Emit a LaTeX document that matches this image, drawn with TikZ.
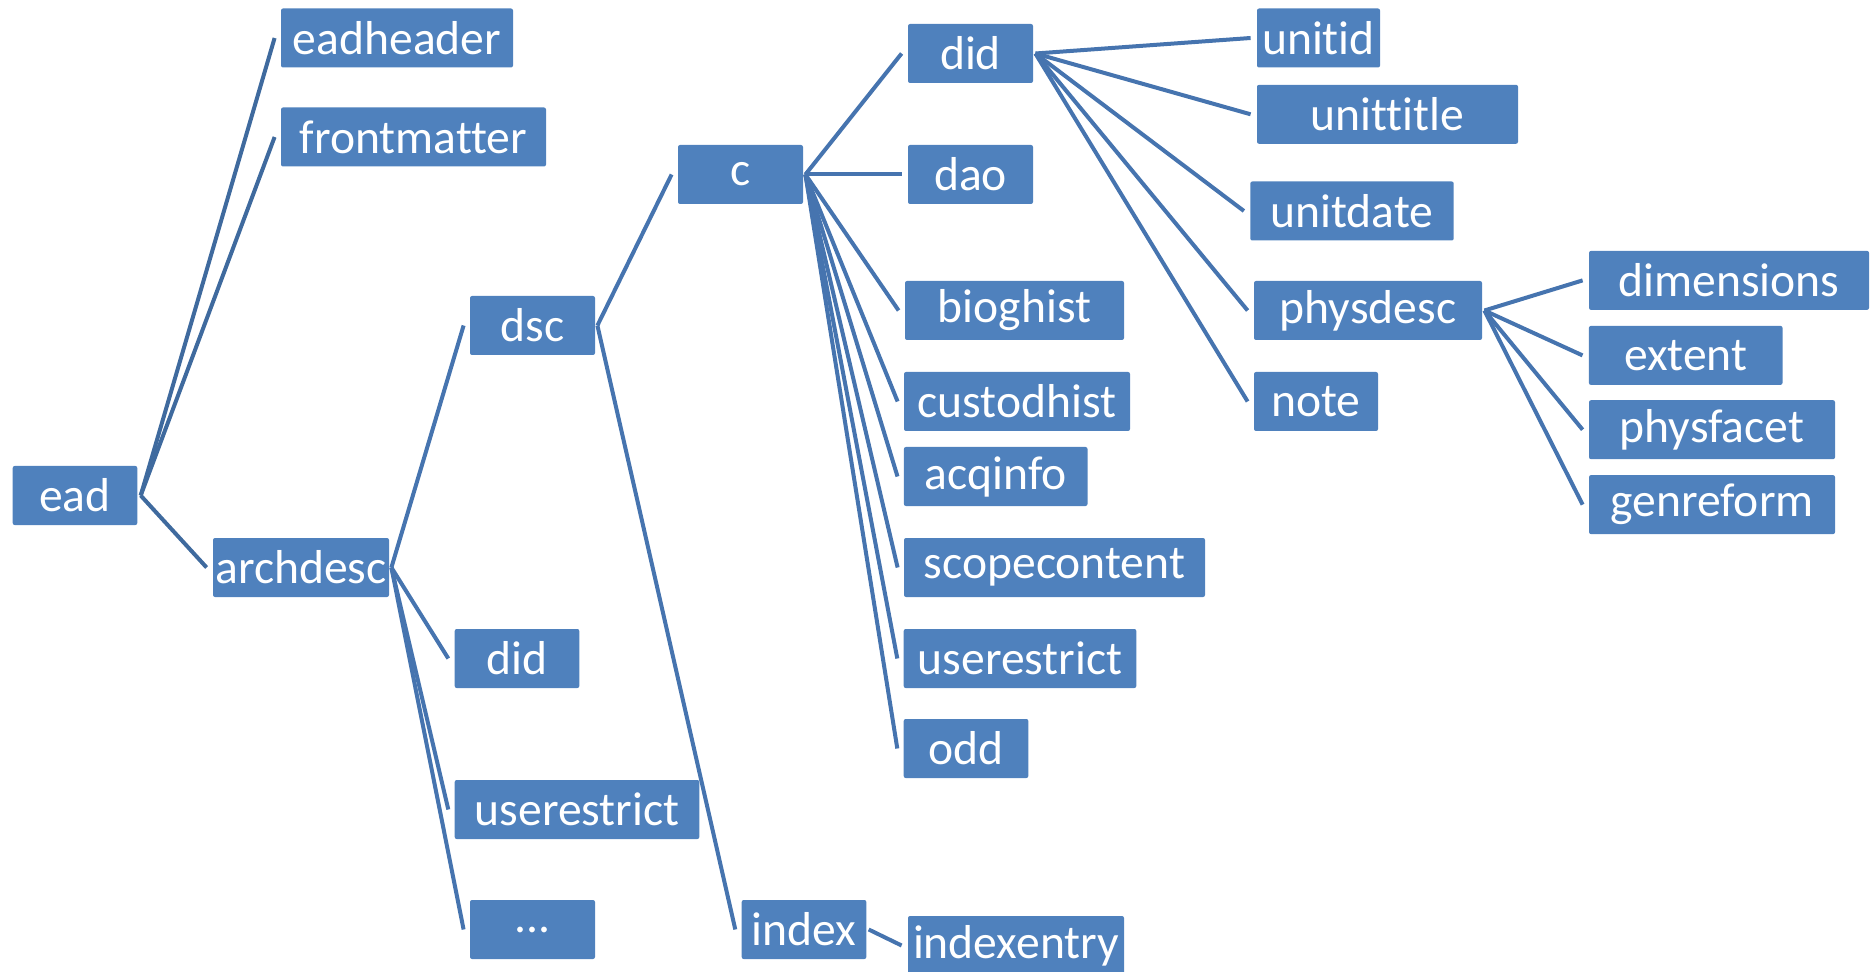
\documentclass[tikz,border=0pt]{standalone}
\usepackage{fontspec}
\setmainfont{Carlito}[Ligatures=NoCommon]
\definecolor{boxblue}{HTML}{4F81BD}
\definecolor{linkblue}{HTML}{4674AF}
\definecolor{rootlink}{HTML}{3F6A9E}
\tikzset{
  elem/.style={fill=boxblue, draw=none, rounded corners=1pt, inner sep=0pt,
    minimum height=29.5pt, text=white, font=\fontsize{23.8}{26}\selectfont},
  link/.style={draw=linkblue, line width=2pt},
  rootedge/.style={draw=rootlink, line width=2pt}
}
\begin{document}
\begin{tikzpicture}[x=0.5pt, y=-0.5pt]
\useasboundingbox (0,0) rectangle (1872,972);

% root and its children
\node[elem, minimum width=62.3pt] (ead) at (75,495.5) {ead};
\node[elem, minimum width=116pt] (eadheader) at (397,38) {eadheader};
\node[elem, minimum width=132.5pt] (frontmatter) at (413.5,137) {frontmatter};
\node[elem, minimum width=88pt] (archdesc) at (301,567.5) {archdesc};

% archdesc children
\node[elem, minimum width=62.5pt] (dsc) at (532.5,325.5) {dsc};
\node[elem, minimum width=62.3pt] (adid) at (517,658.5) {did};
\node[elem, minimum width=122.3pt] (auser) at (577,809.5) {userestrict};
\node[elem, minimum width=62.5pt] (more) at (532.5,929.5) {...};

% dsc children
\node[elem, minimum width=62.5pt] (c) at (740.5,174.5) {c};
\node[elem, minimum width=62.3pt] (index) at (804,929.5) {index};
\node[elem, minimum width=108pt] (indexentry) at (1016,945.5) {indexentry};

% c children
\node[elem, minimum width=62.5pt] (cdid) at (970.5,53.5) {did};
\node[elem, minimum width=62.5pt] (dao) at (970.5,174.5) {dao};
\node[elem, minimum width=109.5pt] (bioghist) at (1014.5,310.5) {bioghist};
\node[elem, minimum width=113pt] (custodhist) at (1017,401.5) {custodhist};
\node[elem, minimum width=91.8pt] (acqinfo) at (995.7,476.5) {acqinfo};
\node[elem, minimum width=150.5pt] (scopecontent) at (1054.5,567.5) {scopecontent};
\node[elem, minimum width=116.3pt] (cuser) at (1020,658.5) {userestrict};
\node[elem, minimum width=62.3pt] (odd) at (966,748.5) {odd};

% did children
\node[elem, minimum width=61.5pt] (unitid) at (1318.5,38) {unitid};
\node[elem, minimum width=130.5pt] (unittitle) at (1387.5,114.3) {unittitle};
\node[elem, minimum width=101.7pt] (unitdate) at (1352,211) {unitdate};
\node[elem, minimum width=114pt] (physdesc) at (1368,310.5) {physdesc};
\node[elem, minimum width=62pt] (note) at (1316,401.5) {note};

% physdesc children
\node[elem, minimum width=140pt] (dimensions) at (1729,280.4) {dimensions};
\node[elem, minimum width=96.8pt] (extent) at (1685.7,355.4) {extent};
\node[elem, minimum width=123pt] (physfacet) at (1712,429.7) {physfacet};
\node[elem, minimum width=123pt] (genreform) at (1712,504.6) {genreform};

% connectors: parent's right side to child's left side
\foreach \ch in {eadheader, frontmatter, archdesc}
  \draw[rootedge] ([xshift=1.5pt]ead.east) -- ([xshift=-3pt]\ch.west);
\foreach \p/\ch in {archdesc/dsc, archdesc/adid, archdesc/auser, archdesc/more,
    dsc/c, dsc/index, index/indexentry,
    c/cdid, c/dao, c/bioghist, c/custodhist, c/acqinfo, c/scopecontent, c/cuser, c/odd,
    cdid/unitid, cdid/unittitle, cdid/unitdate, cdid/physdesc, cdid/note,
    physdesc/dimensions, physdesc/extent, physdesc/physfacet, physdesc/genreform}
  \draw[link] ([xshift=1pt]\p.east) -- ([xshift=-3pt]\ch.west);
\end{tikzpicture}
\end{document}
